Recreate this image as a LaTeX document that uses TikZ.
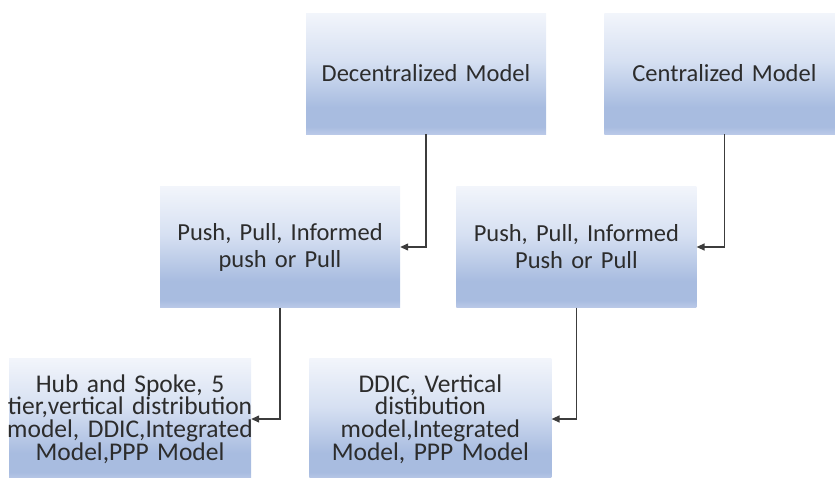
\documentclass[tikz,border=0pt]{standalone}
\usepackage{fontspec}
\setmainfont{Carlito}
\usetikzlibrary{arrows.meta,positioning}

\definecolor{fadeTop}{RGB}{242,245,251}
\definecolor{fadeMid}{RGB}{214,224,242}
\definecolor{fadeLow}{RGB}{168,188,224}
\definecolor{fadeEdge}{RGB}{186,201,232}
\definecolor{inkgray}{RGB}{44,44,44}
\definecolor{linegray}{RGB}{60,60,60}

% light top, blue towards the bottom, thin lighter band at the very bottom
\pgfdeclareverticalshading{boxfade}{100bp}{color(0bp)=(fadeEdge); color(25bp)=(fadeEdge); color(28bp)=(fadeLow); color(36bp)=(fadeLow); color(55bp)=(fadeMid); color(75bp)=(fadeTop); color(100bp)=(fadeTop)}

\begin{document}
\begin{tikzpicture}[
				x=1pt, y=-1pt,
				box/.style={rectangle, shading=boxfade, align=center, text width=236pt, inner sep=2pt, minimum height=121pt, text=inkgray, font=\fontsize{24.5}{27}\selectfont},
				tight/.style={text width=252pt, inner xsep=-5pt, font=\fontsize{25.5}{22.7}\selectfont},
				arrow/.style={line width=1.3pt, draw=linegray, -{Triangle[length=8pt,width=7pt]}}
				]
				\useasboundingbox (0,0) rectangle (835,477);
				
				\node (A) [box] at (426,73.5) {Decentralized Model};
				\node (B) [box, right=58pt of A] {Centralized Model};
				
				\node (C) [box] at (280,247) {Push, Pull, Informed\\push or Pull};
				\node (D) [box, right=56pt of C] {Push, Pull, Informed\\Push or Pull};
				
				\node (E) [box, tight] at (130,419) {Hub and Spoke, 5\\tier,vertical distribution\\model, DDIC,Integrated\\Model,PPP Model};
				\node (F) [box, tight, right=58pt of E] {DDIC, Vertical\\distibution\\model,Integrated\\Model, PPP Model};
				
				\draw [arrow] (A.south) |- (C.east);
				\draw [arrow] (B.south) |- (D.east);
				\draw [arrow] (C.south) |- (E.east);
				\draw [arrow] (D.south) |- (F.east);
			\end{tikzpicture}
\end{document}
